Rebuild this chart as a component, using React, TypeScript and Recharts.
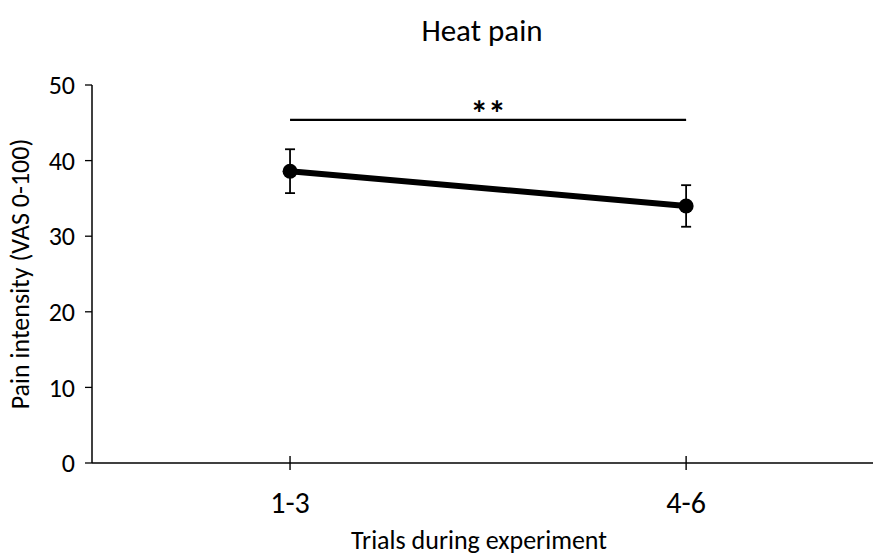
import React from 'react';
import {
  LineChart,
  Line,
  XAxis,
  YAxis,
  ErrorBar,
  ReferenceLine,
} from 'recharts';

const trials = ['1-3', '4-6'];
const painMean = [38.6, 34.0];
const painErr = [2.9, 2.75];
const yTicks = [0, 10, 20, 30, 40, 50];
const sigLevel = 45.4;
const sigMark = '**';

const FONT = 'Carlito, Lato, "Open Sans", sans-serif';
const X_TICK_SIZE = 7;
const X_TICK_MARGIN = 22;

// numeric x so each trial block sits in the middle of its band;
// the axis runs a little past the right edge of the picture, as in the original
const rows = trials.map((t, i) => ({
  pos: i + 0.5,
  label: t,
  mean: painMean[i],
  err: painErr[i],
}));

// Excel-style "cross" tick marks on the category axis
const CrossTick = (props: any) => {
  const { x, y, payload } = props;
  const axisY = y - X_TICK_SIZE - X_TICK_MARGIN;
  return (
    <g>
      <line x1={x} x2={x} y1={axisY - 7} y2={axisY + 7} stroke="#000" strokeWidth={1.4} />
      <text
        x={x}
        y={y}
        dy="0.71em"
        textAnchor="middle"
        fill="#000"
        fontSize={30}
        fontFamily={FONT}
      >
        {trials[Math.floor(payload.value)]}
      </text>
    </g>
  );
};

const App: React.FC = () => {
  return (
    <div
      style={{
        position: 'fixed',
        top: 0,
        left: 0,
        width: 873,
        height: 557,
        overflow: 'hidden',
        background: '#fff',
        fontFamily: FONT,
      }}
    >
      <style>{'html, body { margin: 0; overflow: hidden; }'}</style>
      <div
        style={{
          position: 'absolute',
          top: 11,
          left: 0,
          width: 964,
          textAlign: 'center',
          fontSize: 31,
          lineHeight: '38px',
          color: '#000',
        }}
      >
        Heat pain
      </div>
      <LineChart
        width={900}
        height={557}
        data={rows}
        margin={{ top: 85, right: 0, bottom: 0, left: 0 }}
      >
        <XAxis
          dataKey="pos"
          type="number"
          domain={[0, 2.04]}
          ticks={[0.5, 1.5]}
          height={94}
          tickSize={X_TICK_SIZE}
          tickMargin={X_TICK_MARGIN}
          axisLine={{ stroke: '#000', strokeWidth: 1.5 }}
          tickLine={false}
          tick={<CrossTick />}
          label={{
            value: 'Trials during experiment',
            position: 'insideBottom',
            offset: 8,
            dx: -17,
            fill: '#000',
            fontSize: 26,
            fontFamily: FONT,
          }}
        />
        <YAxis
          type="number"
          domain={[0, 50]}
          ticks={yTicks}
          width={92}
          tickSize={7}
          tickMargin={10}
          axisLine={{ stroke: '#000', strokeWidth: 1.5 }}
          tickLine={{ stroke: '#000', strokeWidth: 1.3 }}
          tick={{ fill: '#000', fontSize: 26, fontFamily: FONT }}
          label={{
            value: 'Pain intensity (VAS 0-100)',
            angle: -90,
            position: 'insideLeft',
            offset: 20,
            fill: '#000',
            fontSize: 26,
            fontFamily: FONT,
            style: { textAnchor: 'middle' },
          }}
        />
        <ReferenceLine
          segment={[
            { x: 0.5, y: sigLevel },
            { x: 1.5, y: sigLevel },
          ]}
          stroke="#000"
          strokeWidth={2.2}
          label={{
            value: sigMark,
            position: 'top',
            offset: -6,
            fill: '#000',
            fontSize: 36,
            fontWeight: 700,
            fontFamily: FONT,
          }}
        />
        <Line
          dataKey="mean"
          stroke="#000"
          strokeWidth={6}
          dot={{ r: 7.5, fill: '#000', stroke: '#000', strokeWidth: 0 }}
          activeDot={false}
          isAnimationActive={false}
        >
          <ErrorBar dataKey="err" direction="y" width={5} stroke="#000" strokeWidth={1.8} />
        </Line>
      </LineChart>
    </div>
  );
};

export default App;
